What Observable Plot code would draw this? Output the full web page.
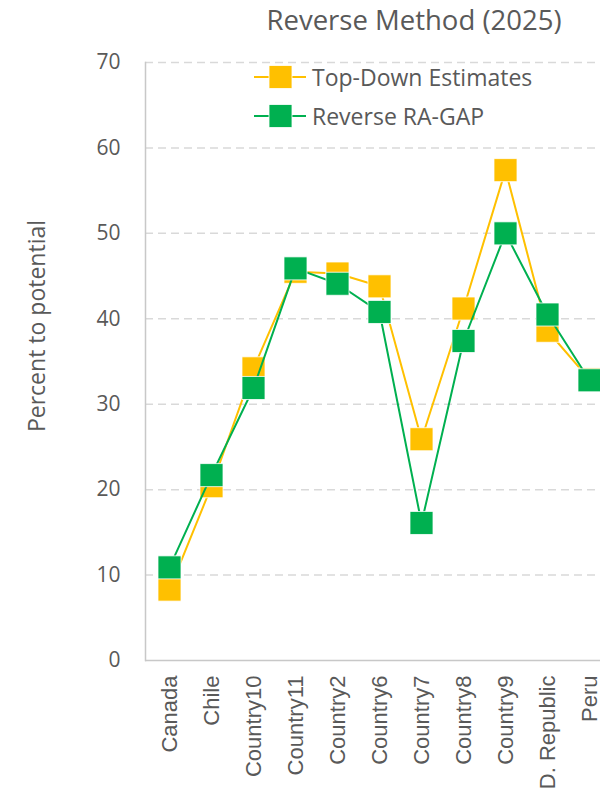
<!DOCTYPE html>
<html><head><meta charset="utf-8">
<script src="https://cdn.jsdelivr.net/npm/d3@7"></script>
<script src="https://cdn.jsdelivr.net/npm/@observablehq/plot@0.6"></script>
<style>
html,body{margin:0;padding:0;background:#fff;overflow:hidden;}
#wrap{position:relative;width:600px;height:799px;font-family:"Open Sans",Lato,sans-serif;color:#595959;}
#title{position:absolute;left:0;width:828px;top:1px;text-align:center;font-size:27.5px;}
#legend{position:absolute;left:254px;top:57px;font-size:23px;}
.row{display:flex;align-items:center;height:39px;}
.row svg{margin-right:6px;}
#ylab{position:absolute;left:36px;top:326px;transform:translate(-50%,-50%) rotate(-90deg);font-size:23px;white-space:nowrap;}
</style></head>
<body><div id="wrap"><div id="chart"></div><div id="title">Reverse Method (2025)</div><div id="ylab">Percent to potential</div><div id="legend"></div></div>
<script>
const categories = ["Canada","Chile","Country10","Country11","Country2","Country6","Country7","Country8","Country9","D. Republic","Peru"];
const topDown = [8.3,20.4,34.2,45.5,45.3,43.8,25.9,41.2,57.4,38.6,32.9];
const reverseRAGAP = [10.9,21.7,31.9,45.9,44.1,40.8,16.1,37.4,50.0,40.5,32.8];
const yTicks = [0,10,20,30,40,50,60,70];
const seriesNames = ["Top-Down Estimates","Reverse RA-GAP"];
const seriesColors = ["#FFC000","#00B050"];

const data = [];
[topDown, reverseRAGAP].forEach((vals, s) => vals.forEach((v, i) => data.push({series: seriesNames[s], cat: categories[i], value: v})));

const marks = [
  Plot.ruleY(yTicks.filter(d => d > 0), {stroke: "#d9d9d9", strokeWidth: 1.5, strokeDasharray: "8,5"}),
  Plot.ruleY([0], {stroke: "#c8c8c8", strokeWidth: 1.5}),
  Plot.frame({anchor: "left", stroke: "#c8c8c8", strokeWidth: 1.5}),
  Plot.axisY({ticks: yTicks, tickSize: 0, tickPadding: 25, fontSize: 21, fontFamily: "'Open Sans', sans-serif", fill: "#595959", label: null}),
  Plot.axisX({tickSize: 0, tickPadding: 15, tickRotate: -90, fontSize: 22, fontFamily: "'Liberation Sans', Arial, sans-serif", fill: "#595959", label: null})
];
seriesNames.forEach((name, s) => {
  const d = data.filter(r => r.series === name);
  marks.push(Plot.line(d, {x: "cat", y: "value", stroke: seriesColors[s], strokeWidth: 2}));
  marks.push(Plot.dot(d, {x: "cat", y: "value", symbol: "square", r: 13, fill: seriesColors[s], stroke: "#ffffff", strokeWidth: 0.8}));
});

const chart = Plot.plot({
  width: 600, height: 799,
  marginTop: 62, marginBottom: 139, marginLeft: 145, marginRight: 0,
  style: {fontFamily: "'Open Sans', sans-serif", color: "#595959", background: "#fff", overflow: "visible"},
  x: {type: "band", domain: categories, range: [145, 612.5], padding: 0},
  y: {domain: [0, 70]},
  marks
});
document.getElementById("chart").appendChild(chart);

const legend = document.getElementById("legend");
seriesNames.forEach((name, s) => {
  const row = document.createElement("div");
  row.className = "row";
  row.innerHTML = `<svg width="52" height="26"><line x1="0" x2="52" y1="13" y2="13" stroke="${seriesColors[s]}" stroke-width="2"/><rect x="15" y="1.5" width="23" height="23" fill="${seriesColors[s]}" stroke="#fff" stroke-width="0.8"/></svg><span>${name}</span>`;
  legend.appendChild(row);
});
</script></body></html>
